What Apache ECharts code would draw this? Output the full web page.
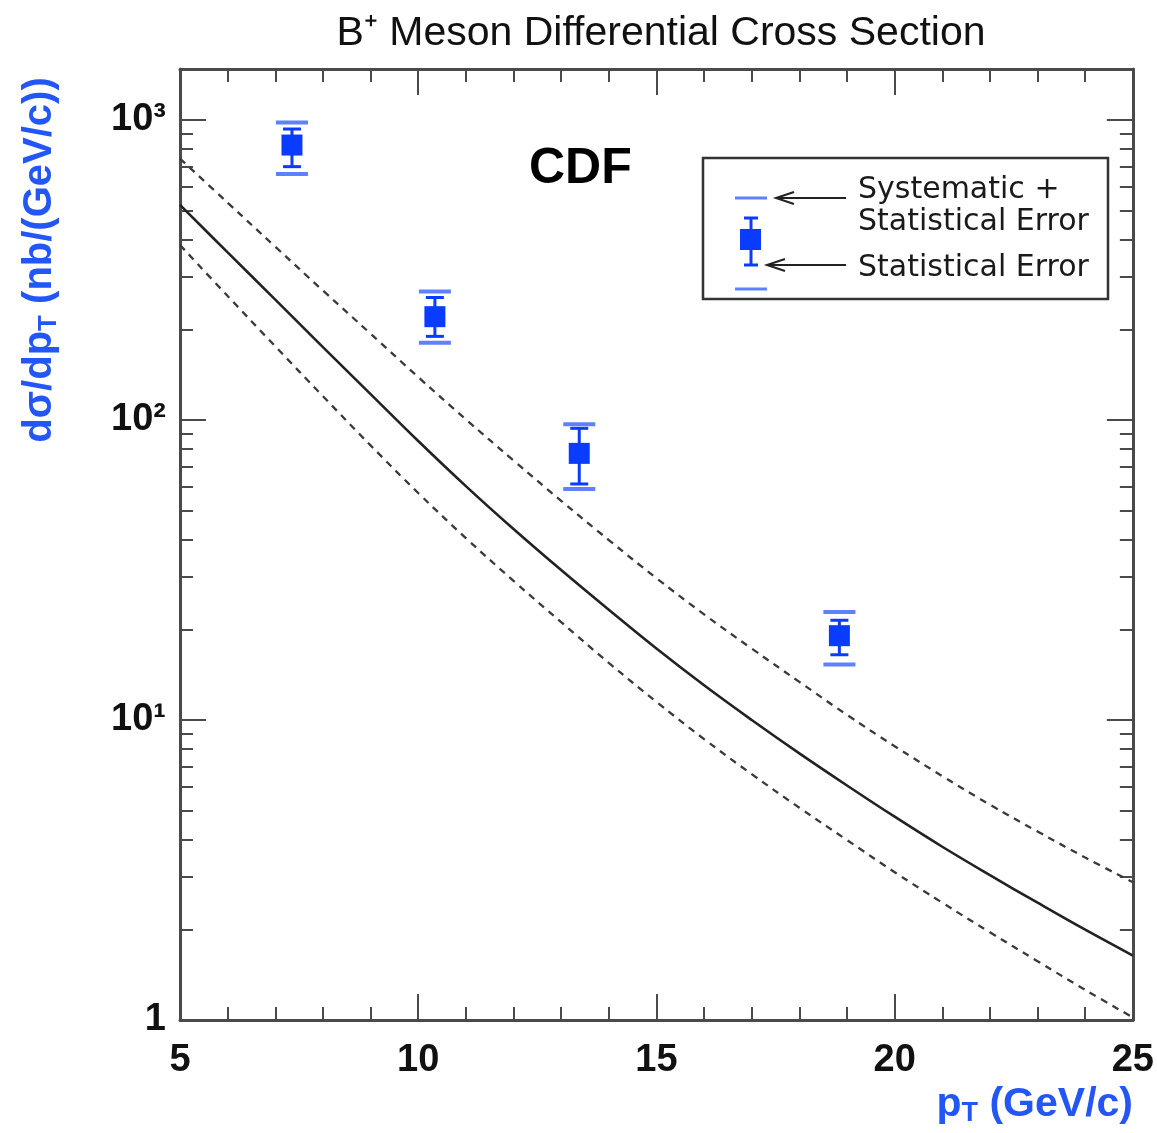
<!DOCTYPE html>
<html>
<head>
<meta charset="utf-8">
<title>B+ Meson Differential Cross Section</title>
<script src="https://cdn.jsdelivr.net/npm/echarts@6/dist/echarts.min.js"></script>
<style>
  html, body { margin: 0; padding: 0; background: #fff; }
  #chart { width: 1157px; height: 1133px; }
</style>
</head>
<body>
<div id="chart"></div>
<script>
// measured B+ points: pT (GeV/c), dsigma/dpT (nb/(GeV/c))
const ptPoints = [7.35, 10.35, 13.38, 18.84];
const xsec = [825, 221, 77.4, 19.1];
const statLow = [699, 190, 61.2, 16.5];
const statHigh = [933, 256, 93.8, 21.5];
const sysLow = [661, 181, 58.9, 15.3];
const sysHigh = [980, 268, 96.7, 22.9];

const ptGrid = [5, 6, 7, 8, 9, 10, 11, 12, 13, 14, 15, 16, 17, 18, 19, 20, 21, 22, 23, 24, 25];
const theory = [521, 362, 252, 175, 122, 85.1, 60.2, 43.3, 31.6, 23.3, 17.3, 13.05, 10.0, 7.74, 6.05, 4.76, 3.78, 3.04, 2.46, 2.0, 1.64];
const theoryHigh = [743, 530, 378, 270, 194, 139, 100.5, 73.3, 53.8, 39.8, 29.7, 22.5, 17.3, 13.4, 10.4, 8.18, 6.5, 5.22, 4.25, 3.48, 2.88];
const theoryLow = [383, 259, 176, 120, 82.3, 57.1, 40.4, 29.1, 21.2, 15.5, 11.5, 8.64, 6.6, 5.1, 3.98, 3.11, 2.46, 1.96, 1.57, 1.26, 1.02];

// axes
const xMin = 5, xMax = 25, xStep = 5;
const yMin = 1, yMax = 1479;
const yTickLabels = ['1', '10¹', '10²', '10³']; // by decade

const frameColor = '#4a4a4a';
const blue = '#0a3cff';
const lightBlue = '#5f80ff';
const axisBlue = '#2356f6';

const chart = echarts.init(document.getElementById('chart'));

function xAxisCfg(pos, showLabels) {
  return {
    type: 'value', position: pos, min: xMin, max: xMax, interval: xStep,
    axisLine: { show: true, onZero: false, lineStyle: { color: frameColor, width: 3 } },
    axisTick: { show: true, inside: true, length: 26, lineStyle: { color: frameColor, width: 2 } },
    minorTick: { show: true, splitNumber: 5, length: 13, lineStyle: { color: frameColor, width: 2 } },
    splitLine: { show: false },
    axisLabel: {
      show: showLabels, margin: 22, color: '#111',
      fontFamily: 'Liberation Sans', fontWeight: 'bold', fontSize: 38
    }
  };
}

function yAxisCfg(pos, showLabels) {
  return {
    type: 'log', logBase: 10, position: pos, min: yMin, max: yMax,
    axisLine: { show: true, onZero: false, lineStyle: { color: frameColor, width: 3 } },
    axisTick: { show: true, inside: true, length: 26, lineStyle: { color: frameColor, width: 2 } },
    minorTick: { show: true, splitNumber: 9, length: 13, lineStyle: { color: frameColor, width: 2 } },
    splitLine: { show: false },
    axisLabel: {
      show: showLabels, margin: 14, color: '#111',
      fontFamily: 'Liberation Sans', fontWeight: 'bold', fontSize: 38,
      formatter(v) {
        const e = Math.log10(v);
        if (Math.abs(e - Math.round(e)) > 1e-6) return '';
        return yTickLabels[Math.round(e)] || '';
      }
    }
  };
}

const pointData = ptPoints.map((x, i) => [x, xsec[i], statLow[i], statHigh[i], sysLow[i], sysHigh[i]]);

function renderErrorBar(params, api) {
  const x = api.value(0);
  const c = api.coord([x, api.value(1)]);
  const sLo = api.coord([x, api.value(2)]);
  const sHi = api.coord([x, api.value(3)]);
  const yLo = api.coord([x, api.value(4)]);
  const yHi = api.coord([x, api.value(5)]);
  const cx = c[0];
  const sysStyle = { stroke: lightBlue, lineWidth: 4 };
  const statStyle = { stroke: blue, lineWidth: 3 };
  return {
    type: 'group',
    children: [
      { type: 'line', shape: { x1: cx - 16, y1: yHi[1], x2: cx + 16, y2: yHi[1] }, style: sysStyle },
      { type: 'line', shape: { x1: cx - 16, y1: yLo[1], x2: cx + 16, y2: yLo[1] }, style: sysStyle },
      { type: 'line', shape: { x1: cx, y1: sHi[1], x2: cx, y2: sLo[1] }, style: statStyle },
      { type: 'line', shape: { x1: cx - 9, y1: sHi[1], x2: cx + 9, y2: sHi[1] }, style: statStyle },
      { type: 'line', shape: { x1: cx - 9, y1: sLo[1], x2: cx + 9, y2: sLo[1] }, style: statStyle },
      { type: 'rect', shape: { x: cx - 10.5, y: c[1] - 10.5, width: 21, height: 21 }, style: { fill: blue } }
    ]
  };
}

const curve = (vals) => ptGrid.map((x, i) => [x, vals[i]]);

// legend box drawn by hand, like the original ROOT-style key
const legendFont = '30px "DejaVu Sans"';
const legend = [
  { type: 'rect', shape: { x: 703, y: 158, width: 405, height: 141 },
    style: { fill: '#fff', stroke: '#333', lineWidth: 2.5 }, z: 10 },
  { type: 'line', shape: { x1: 735, y1: 198, x2: 767, y2: 198 }, style: { stroke: lightBlue, lineWidth: 3 }, z: 11 },
  { type: 'line', shape: { x1: 735, y1: 289, x2: 767, y2: 289 }, style: { stroke: lightBlue, lineWidth: 3 }, z: 11 },
  { type: 'line', shape: { x1: 751, y1: 218, x2: 751, y2: 265 }, style: { stroke: blue, lineWidth: 3 }, z: 11 },
  { type: 'line', shape: { x1: 744, y1: 218, x2: 758, y2: 218 }, style: { stroke: blue, lineWidth: 3 }, z: 11 },
  { type: 'line', shape: { x1: 744, y1: 265, x2: 758, y2: 265 }, style: { stroke: blue, lineWidth: 3 }, z: 11 },
  { type: 'rect', shape: { x: 740, y: 229, width: 21, height: 21 }, style: { fill: blue }, z: 11 },
  { type: 'line', shape: { x1: 846, y1: 198, x2: 776, y2: 198 }, style: { stroke: '#222', lineWidth: 2 }, z: 11 },
  { type: 'polyline', shape: { points: [[794, 192], [776, 198], [794, 204]] }, style: { stroke: '#222', lineWidth: 2, fill: null }, z: 11 },
  { type: 'line', shape: { x1: 846, y1: 265, x2: 767, y2: 265 }, style: { stroke: '#222', lineWidth: 2 }, z: 11 },
  { type: 'polyline', shape: { points: [[785, 259], [767, 265], [785, 271]] }, style: { stroke: '#222', lineWidth: 2, fill: null }, z: 11 },
  { type: 'text', x: 858, y: 190, style: { text: 'Systematic +', font: legendFont, fill: '#1a1a1a', verticalAlign: 'middle' }, z: 11 },
  { type: 'text', x: 858, y: 222, style: { text: 'Statistical Error', font: legendFont, fill: '#1a1a1a', verticalAlign: 'middle' }, z: 11 },
  { type: 'text', x: 858, y: 268, style: { text: 'Statistical Error', font: legendFont, fill: '#1a1a1a', verticalAlign: 'middle' }, z: 11 }
];

const option = {
  animation: false,
  backgroundColor: '#fff',
  title: {
    text: 'B⁺ Meson Differential Cross Section',
    left: 656, top: 8, textAlign: 'center',
    textStyle: { fontFamily: 'Liberation Sans', fontWeight: 'normal', fontSize: 41, color: '#111' }
  },
  grid: { left: 180, right: 24, top: 69, bottom: 113 },
  xAxis: [xAxisCfg('bottom', true), xAxisCfg('top', false)],
  yAxis: [yAxisCfg('left', true), yAxisCfg('right', false)],
  graphic: [
    { type: 'text', left: 529, top: 144,
      style: { text: 'CDF', font: 'bold 50px "Liberation Sans"', fill: '#000' } },
    { type: 'text', x: 40, y: 260, rotation: Math.PI / 2,
      style: {
        text: 'dσ/dp{sub|T} (nb/(GeV/c))',
        font: 'bold 40px "Liberation Sans"', fill: axisBlue,
        align: 'center', verticalAlign: 'middle',
        rich: { sub: { fontSize: 26, fontWeight: 'bold', fill: axisBlue, padding: [18, 0, 0, 0] } }
      } },
    { type: 'text', x: 1133, y: 1105,
      style: {
        text: 'p{sub|T} (GeV/c)',
        font: 'bold 41px "Liberation Sans"', fill: axisBlue,
        align: 'right', verticalAlign: 'middle',
        rich: { sub: { fontSize: 27, fontWeight: 'bold', fill: axisBlue, padding: [18, 0, 0, 0] } }
      } },
    ...legend
  ],
  series: [
    { name: 'Theory upper', type: 'line', data: curve(theoryHigh), smooth: 0.4, symbol: 'none',
      lineStyle: { color: '#3a3a3a', width: 2.3, type: [7, 6] } },
    { name: 'Theory', type: 'line', data: curve(theory), smooth: 0.4, symbol: 'none',
      lineStyle: { color: '#222', width: 2.6 } },
    { name: 'Theory lower', type: 'line', data: curve(theoryLow), smooth: 0.4, symbol: 'none',
      lineStyle: { color: '#3a3a3a', width: 2.3, type: [7, 6] } },
    { name: 'CDF B+', type: 'custom', data: pointData, renderItem: renderErrorBar,
      encode: { x: 0, y: 1 }, z: 5 }
  ]
};

chart.setOption(option);
</script>
</body>
</html>
